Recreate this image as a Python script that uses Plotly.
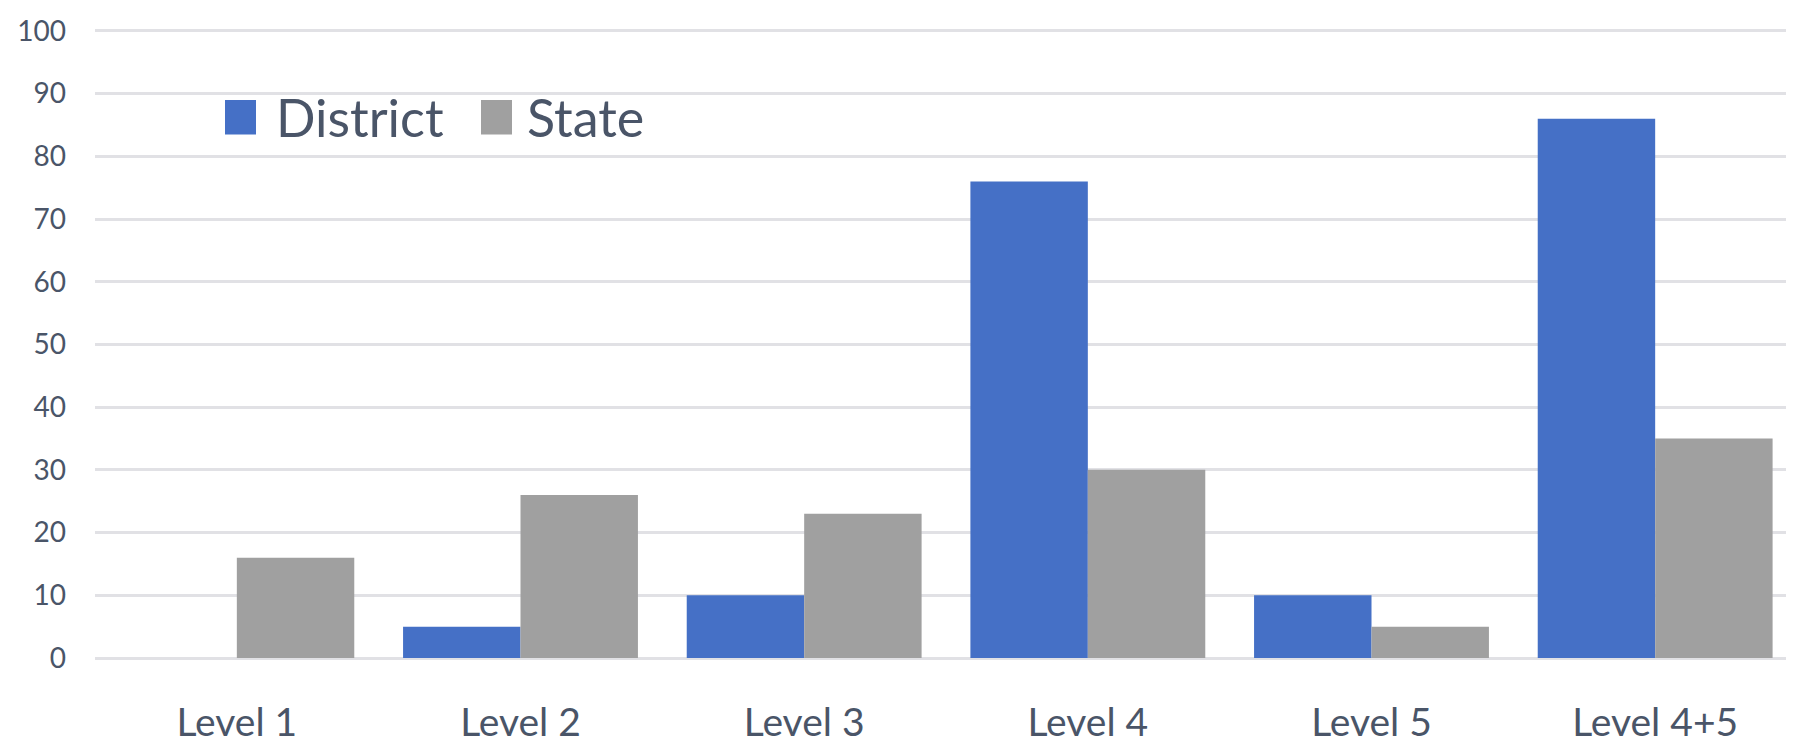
import plotly.graph_objects as go

categories = ["Level 1", "Level 2", "Level 3", "Level 4", "Level 5", "Level 4+5"]
district = [0, 5, 10, 76, 10, 86]
state = [16, 26, 23, 30, 5, 35]
y_ticks = [0, 10, 20, 30, 40, 50, 60, 70, 80, 90, 100]

BLUE = "#4570c6"
GRAY = "#a0a0a0"
TEXT = "#4a5568"
FONT = "Lato, 'Open Sans', sans-serif"

fig = go.Figure()
fig.add_trace(go.Bar(name="District", x=categories, y=district,
                     marker=dict(color=BLUE, line=dict(width=0))))
fig.add_trace(go.Bar(name="State", x=categories, y=state,
                     marker=dict(color=GRAY, line=dict(width=0))))

W, H = 1794, 741
ml, mr, mt, mb = 87, 5, 20, 83
pw, ph = W - ml - mr, H - mt - mb
y_top = 100.3

def px(x):
    return (x - ml) / pw

def py(y):
    return (H - mb - y) / ph

# custom legend (large square swatches)
legend_items = [("District", BLUE, 217, 266), ("State", GRAY, 473, 517)]
shapes = []
annotations = []
for name, col, sx, tx in legend_items:
    shapes.append(dict(type="rect", xref="paper", yref="paper",
                       x0=px(sx), x1=px(sx + 31), y0=py(127), y1=py(92),
                       fillcolor=col, line=dict(width=0), layer="above"))
    annotations.append(dict(text=name, xref="paper", yref="paper",
                            x=px(tx), y=py(109), xanchor="left", yanchor="middle",
                            showarrow=False, font=dict(family=FONT, size=52, color=TEXT)))

fig.update_layout(
    width=W, height=H,
    margin=dict(l=ml, r=mr, t=mt, b=mb),
    paper_bgcolor="white", plot_bgcolor="white",
    barmode="group", bargap=0.172, bargroupgap=0,
    showlegend=False,
    shapes=shapes, annotations=annotations,
    font=dict(family=FONT, color=TEXT),
)
fig.update_xaxes(showgrid=False, showline=False, ticks="",
                 tickfont=dict(size=39, color=TEXT, family=FONT),
                 ticklabelstandoff=38)
fig.update_yaxes(range=[0, y_top], tickvals=y_ticks, showgrid=True,
                 gridcolor="#e1e1e5", gridwidth=3, zeroline=True,
                 zerolinecolor="#e1e1e5", zerolinewidth=3, showline=False,
                 tickfont=dict(size=28, color=TEXT, family=FONT),
                 ticklabelstandoff=28)

fig.write_html("out.html")
